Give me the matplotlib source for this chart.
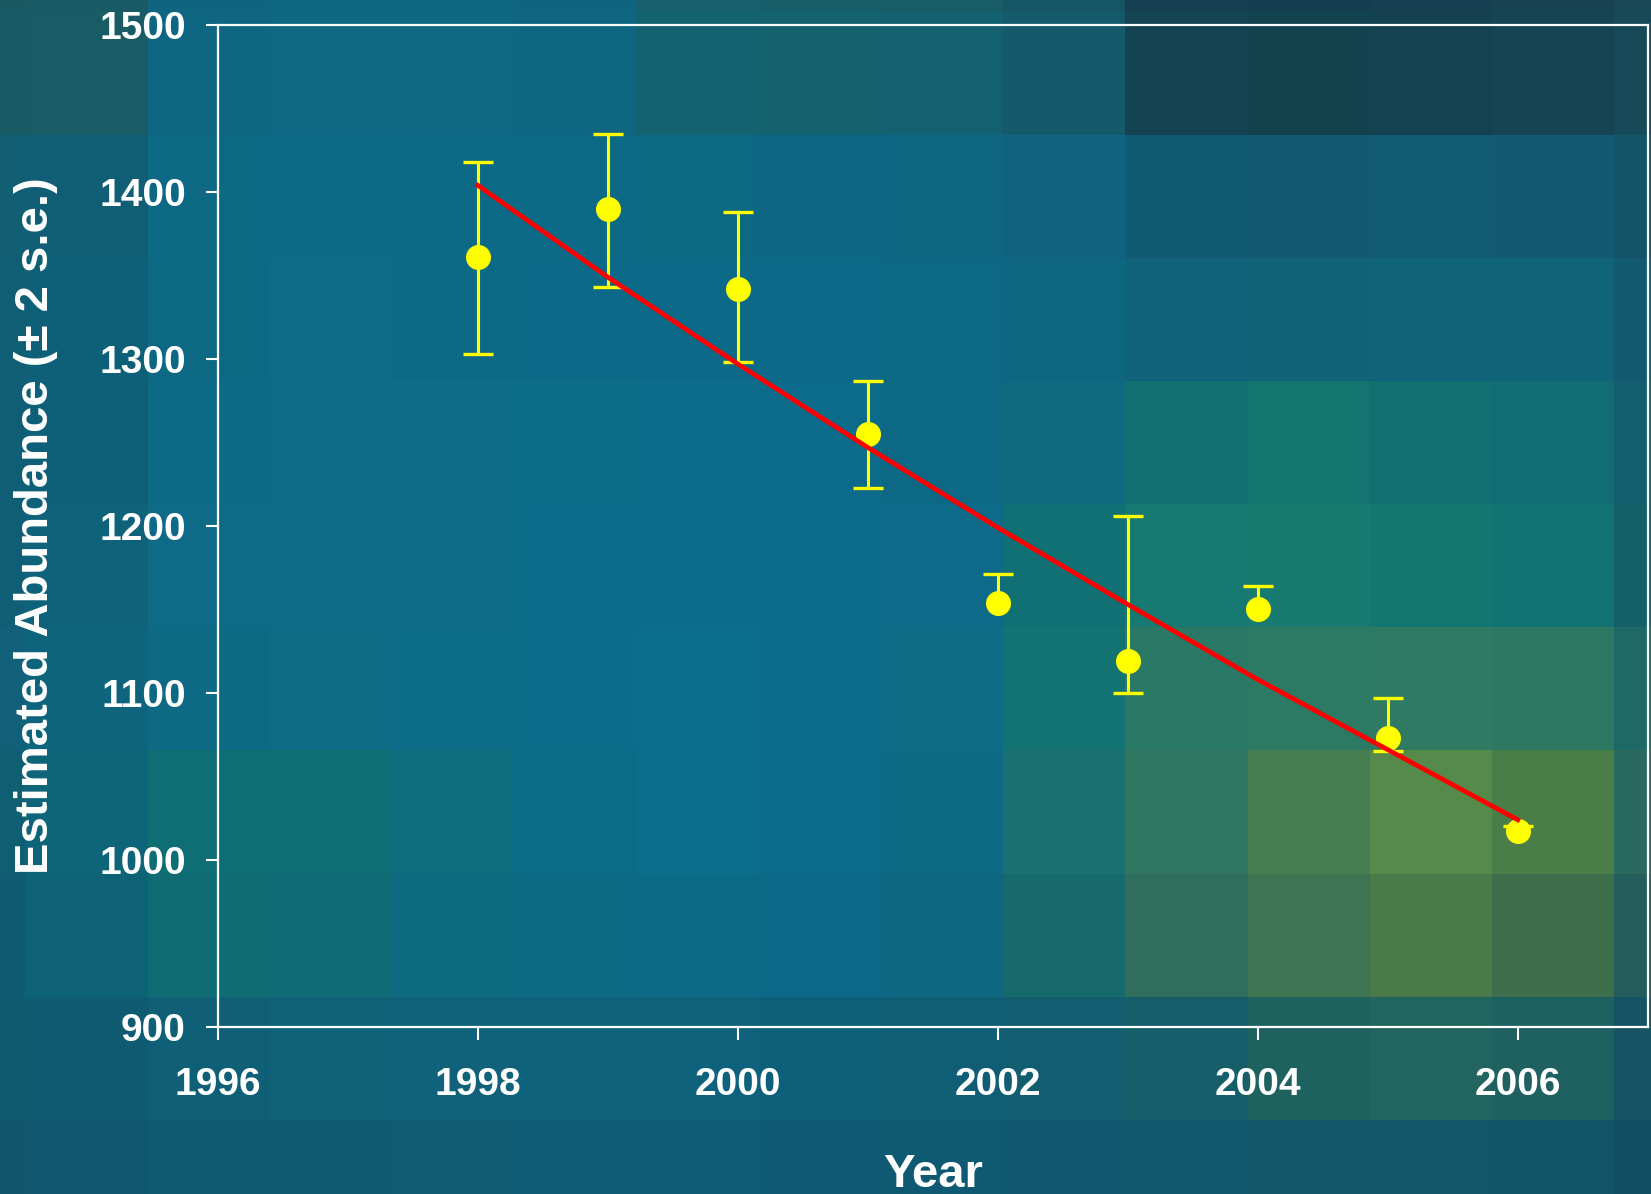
import numpy as np
import matplotlib
matplotlib.use("Agg")
import matplotlib.pyplot as plt
import matplotlib.colors as mcolors

## data
years = [1998, 1999, 2000, 2001, 2002, 2003, 2004, 2005, 2006]
abundance = [1361, 1390, 1342, 1255, 1154, 1119, 1150, 1073, 1017]
upper_ci = [1418, 1435, 1388, 1287, 1171, 1206, 1164, 1097, 1020]
lower_ci = [1303, 1343, 1298, 1223, np.nan, 1100, np.nan, 1065, np.nan]

## fitted trend (slightly curved) read at each year
trend_values = [1404, 1349, 1297, 1247, 1199, 1153, 1108, 1066, 1024]

x_ticks = [1996, 1998, 2000, 2002, 2004, 2006]
y_ticks = [900, 1000, 1100, 1200, 1300, 1400, 1500]

## blocky slide background (rows top->bottom, cols left->right)
bg_rows = [
  ['#1a5862', '#1a5a64', '#0f6580', '#0f6680', '#0f6680', '#0f6580', '#15606c', '#175e68', '#175c66', '#165664', '#153f50', '#143e50', '#164052', '#164252', '#184856'],
  ['#185a66', '#1a5c66', '#0e6682', '#0e6884', '#0e6884', '#0e6682', '#12626f', '#13626e', '#136070', '#145a6a', '#144452', '#13424f', '#144250', '#154452', '#174a58'],
  ['#125e72', '#105e76', '#0d6884', '#0d6a86', '#0d6a86', '#0c6a86', '#0d6884', '#0d6684', '#0e6682', '#0f6280', '#115a74', '#125a72', '#115c74', '#125a72', '#145468'],
  ['#0f5e74', '#0e6078', '#0d6884', '#0e6a86', '#0d6a86', '#0c6a88', '#0c6a88', '#0c6a88', '#0d6886', '#0e6680', '#10627a', '#106278', '#10647a', '#10647a', '#125a70'],
  ['#0f5e76', '#0e6078', '#0d6a86', '#0e6a86', '#0e6c88', '#0d6c88', '#0c6c8a', '#0c6a8a', '#0d6886', '#0f6a80', '#127070', '#14746f', '#127070', '#116c74', '#135e6e'],
  ['#0f5e76', '#0e627a', '#0e6a86', '#0e6a86', '#0e6c88', '#0c6c8a', '#0c6c8a', '#0c6a8a', '#0d6a88', '#107074', '#167a72', '#187a70', '#157670', '#137272', '#146068'],
  ['#0f6078', '#0e647c', '#0e6a84', '#0e6c86', '#0d6c88', '#0c6c8a', '#0b6e8c', '#0c6c8a', '#0e6c86', '#137272', '#2a7866', '#2c7a64', '#2e7a62', '#2c7862', '#1e6866'],
  ['#0f5e72', '#0e6478', '#0f6e74', '#0f6e74', '#0e6c7e', '#0c6c88', '#0a6e8c', '#0b6c8a', '#0e6a84', '#187070', '#2f7560', '#457c50', '#568a4a', '#4a7e48', '#2a6a5e'],
  ['#0f5c72', '#0e6276', '#0f6c72', '#0f6c74', '#0e6a80', '#0d6a84', '#0c6a86', '#0c6886', '#0e6680', '#176a6c', '#2f6e5c', '#3e7452', '#4a7a4a', '#3f6e4c', '#245e5c'],
  ['#0f5a6e', '#0f5c72', '#0f6076', '#0f6278', '#0f627a', '#0e627c', '#0e627c', '#0e607a', '#0f5e76', '#125e70', '#155e6a', '#1e6260', '#226460', '#1f6060', '#165464'],
  ['#0f5468', '#0f566e', '#0f5a70', '#0f5c72', '#0f5c74', '#0e5c76', '#0e5c76', '#0e5a74', '#0f5a72', '#105870', '#10566c', '#12566a', '#13566a', '#125468', '#124e62'],
]
bg_rgb = np.array([[mcolors.to_rgb(c) for c in row] for row in bg_rows])

plt.rcParams['font.family'] = ['Liberation Sans', 'DejaVu Sans']
plt.rcParams['font.weight'] = 'bold'

fig = plt.figure(figsize=(16.51, 11.94), dpi=100)

## background image axes
bg = fig.add_axes([0, 0, 1, 1])
bg.imshow(bg_rgb, extent=(-92, 1648, 1181, -106), aspect='auto', interpolation='nearest')
bg.set_xlim(0, 1568)
bg.set_ylim(1134, 0)
bg.axis('off')

## main chart
ax = fig.add_axes([0.132, 0.140, 0.866, 0.839])
ax.set_zorder(2)
ax.patch.set_alpha(0)

abund = np.array(abundance, dtype=float)
upper = np.array(upper_ci, dtype=float)
lower = np.array(lower_ci, dtype=float)

## stems: missing lower bounds stop at the point
lower_err = np.where(np.isnan(lower), 0, abund - lower)
ax.errorbar(years, abund, yerr=[lower_err, upper - abund], fmt='none',
            ecolor='#ffff00', elinewidth=2.2, capsize=0, zorder=3)
## caps only where a bound exists
ax.plot(years, upper, linestyle='none', marker='_', markersize=21,
        markeredgewidth=2.4, color='#ffff00', zorder=3)
ax.plot(years, lower, linestyle='none', marker='_', markersize=21,
        markeredgewidth=2.4, color='#ffff00', zorder=3)
ax.plot(years, abund, linestyle='none', marker='o', markersize=17,
        color='#ffff00', zorder=3.5)

ax.plot(years, trend_values, color='#ff0000', linewidth=3.4, zorder=4)

ax.set_xlim(1996, 2007)
ax.set_ylim(900, 1500)
ax.set_xticks(x_ticks)
ax.set_yticks(y_ticks)

for side in ['left', 'bottom', 'top', 'right']:
  ax.spines[side].set_color('white')
  ax.spines[side].set_linewidth(1.6)

ax.tick_params(axis='both', colors='white', length=9, width=1.5, labelsize=28)
ax.tick_params(axis='x', pad=20)
ax.tick_params(axis='y', pad=14)
for lbl in ax.get_xticklabels() + ax.get_yticklabels():
  lbl.set_fontweight('bold')

ax.set_xlabel('Year', color='white', fontsize=34, fontweight='bold', labelpad=36)
ax.set_ylabel('Estimated Abundance (± 2 s.e.)', color='white', fontsize=34,
              fontweight='bold', labelpad=30)

fig.savefig('out.png', dpi=100)
